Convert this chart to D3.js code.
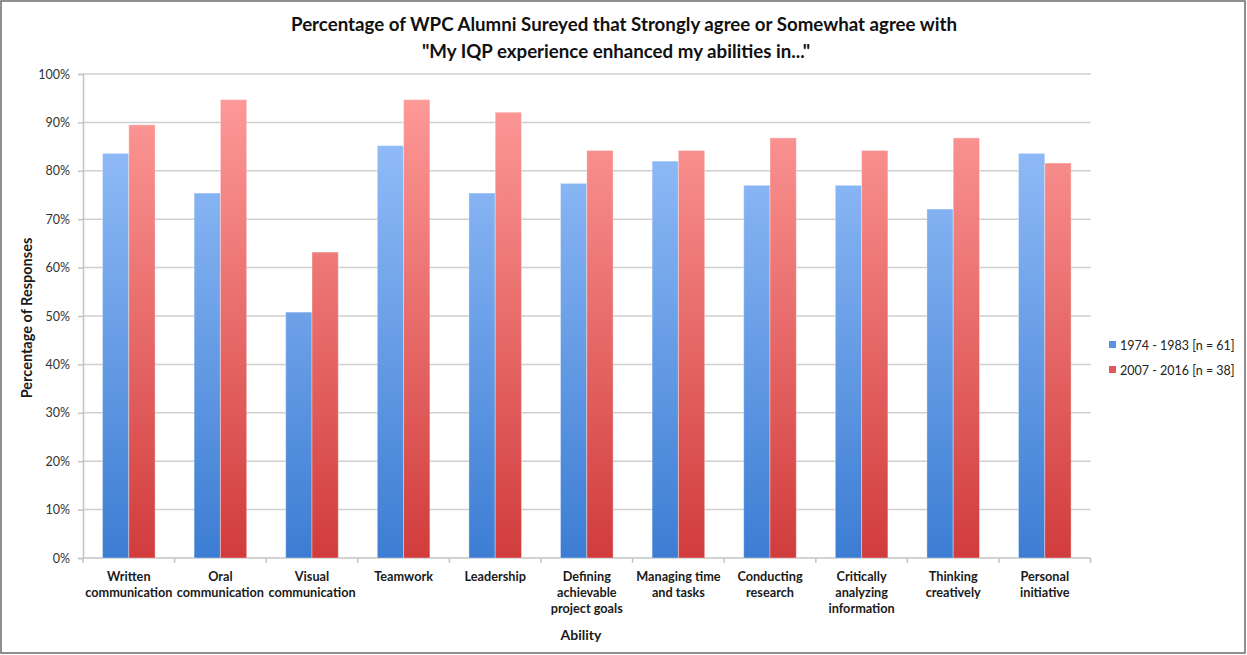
<!DOCTYPE html>
<html>
<head>
<meta charset="utf-8">
<script src="https://cdn.jsdelivr.net/npm/d3@7"></script>
<style>
  html, body { margin: 0; padding: 0; background: #fff; }
  svg { display: block; font-family: Lato, "Open Sans", sans-serif; }
</style>
</head>
<body>
<svg id="chart" width="1247" height="655"></svg>
<script>
// Survey abilities (x categories), label lines split as shown under the axis
const categories = [
  ["Written", "communication"],
  ["Oral", "communication"],
  ["Visual", "communication"],
  ["Teamwork"],
  ["Leadership"],
  ["Defining", "achievable", "project goals"],
  ["Managing time", "and tasks"],
  ["Conducting", "research"],
  ["Critically", "analyzing", "information"],
  ["Thinking", "creatively"],
  ["Personal", "initiative"]
];

// Share of respondents agreeing, in percent
const cohort1974 = [83.6, 75.4, 50.8, 85.2, 75.4, 77.4, 82.0, 77.0, 77.0, 72.1, 83.6];
const cohort2007 = [89.5, 94.7, 63.2, 94.7, 92.1, 84.2, 84.2, 86.8, 84.2, 86.8, 81.6];

const seriesNames = ["1974 - 1983 [n = 61]", "2007 - 2016 [n = 38]"];
const yTicks = [0, 10, 20, 30, 40, 50, 60, 70, 80, 90, 100];

const svg = d3.select("#chart");
const W = 1247, H = 655;
const plot = { left: 83, right: 1090.6, top: 74, bottom: 558 };

// Outer frame
svg.append("rect")
  .attr("x", 1).attr("y", 1).attr("width", W - 3).attr("height", H - 3)
  .attr("fill", "#fff").attr("stroke", "#6b6b6b").attr("stroke-width", 1.5);

// Gradients for the bar fills
const defs = svg.append("defs");
const gradSpecs = [
  { id: "gBlue", top: "#9ec5fd", bottom: "#3c7dd3" },
  { id: "gRed", top: "#ff9e9c", bottom: "#d13c3c" }
];
gradSpecs.forEach(g => {
  const lg = defs.append("linearGradient")
    .attr("id", g.id).attr("gradientUnits", "userSpaceOnUse")
    .attr("x1", 0).attr("x2", 0).attr("y1", plot.top).attr("y2", plot.bottom);
  lg.append("stop").attr("offset", "0%").attr("stop-color", g.top);
  lg.append("stop").attr("offset", "100%").attr("stop-color", g.bottom);
});

const keys = categories.map(c => c.join(" "));
const x0 = d3.scaleBand().domain(keys).range([plot.left, plot.right])
  .paddingInner(0.426).paddingOuter(0.213);
const x1 = d3.scaleBand().domain([0, 1]).range([0, x0.bandwidth()]);
const y = d3.scaleLinear().domain([0, 100]).range([plot.bottom, plot.top]);

// Gridlines
svg.append("g").selectAll("line").data(yTicks.filter(t => t > 0)).join("line")
  .attr("x1", plot.left).attr("x2", plot.right)
  .attr("y1", d => y(d)).attr("y2", d => y(d))
  .attr("stroke", "#cfcfcf").attr("stroke-width", 1.5);

// Y axis
const yAxis = d3.axisLeft(y).tickValues(yTicks).tickFormat(d => d + "%").tickSize(5).tickPadding(8);
const gy = svg.append("g").attr("transform", `translate(${plot.left},0)`).call(yAxis);
gy.select(".domain").attr("stroke", "#c4c4c4").attr("stroke-width", 1.5);
gy.selectAll(".tick line").attr("stroke", "#c4c4c4").attr("stroke-width", 1.5);
gy.selectAll(".tick text").attr("font-size", 12.5).attr("fill", "#333")
  .attr("font-family", "Lato, sans-serif");

// X axis baseline and boundary ticks
const step = x0.step();
svg.append("line").attr("x1", plot.left).attr("x2", plot.right)
  .attr("y1", plot.bottom).attr("y2", plot.bottom)
  .attr("stroke", "#c4c4c4").attr("stroke-width", 1.5);
svg.append("g").selectAll("line").data(d3.range(keys.length + 1)).join("line")
  .attr("x1", i => plot.left + i * step).attr("x2", i => plot.left + i * step)
  .attr("y1", plot.bottom).attr("y2", plot.bottom + 5)
  .attr("stroke", "#c4c4c4").attr("stroke-width", 1.5);

// Bars
const series = [cohort1974, cohort2007];
const fills = ["url(#gBlue)", "url(#gRed)"];
series.forEach((vals, si) => {
  svg.append("g").selectAll("rect").data(vals).join("rect")
    .attr("x", (d, i) => x0(keys[i]) + x1(si))
    .attr("y", d => y(d))
    .attr("width", x1.bandwidth())
    .attr("height", d => y(0) - y(d))
    .attr("fill", fills[si])
    .attr("stroke", "rgba(255,255,255,0.35)").attr("stroke-width", 1);
});

// Category labels
const catG = svg.append("g");
categories.forEach((lines, i) => {
  const cx = x0(keys[i]) + x0.bandwidth() / 2;
  const t = catG.append("text").attr("text-anchor", "middle")
    .attr("font-size", 12.7).attr("font-weight", "bold").attr("fill", "#1a1a1a");
  lines.forEach((ln, j) => {
    t.append("tspan").attr("x", cx).attr("y", 581 + j * 16).text(ln);
  });
});

// Axis titles
svg.append("text").attr("x", 581).attr("y", 640)
  .attr("text-anchor", "middle").attr("font-size", 14).attr("font-weight", "bold")
  .attr("fill", "#1a1a1a").text("Ability");
svg.append("text")
  .attr("transform", `translate(32,318) rotate(-90)`)
  .attr("text-anchor", "middle").attr("font-size", 14.5).attr("font-weight", "bold")
  .attr("fill", "#1a1a1a").text("Percentage of Responses");

// Chart title
const title = svg.append("text").attr("text-anchor", "middle")
  .attr("font-size", 18.7).attr("font-weight", "bold").attr("fill", "#111");
title.append("tspan").attr("x", 624).attr("y", 31)
  .text("Percentage of WPC Alumni Sureyed that Strongly agree or Somewhat agree with");
title.append("tspan").attr("x", 616).attr("y", 58)
  .text("\"My IQP experience enhanced my abilities in...\"");

// Legend
const legend = svg.append("g");
seriesNames.forEach((name, i) => {
  const ly = 346 + i * 25;
  legend.append("rect").attr("x", 1109).attr("y", ly - 5).attr("width", 7).attr("height", 7)
    .attr("fill", i === 0 ? "#5b93e0" : "#e05a5a");
  legend.append("text").attr("x", 1120).attr("y", ly + 4)
    .attr("font-size", 12.5).attr("fill", "#222").text(name);
});
</script>
</body>
</html>
